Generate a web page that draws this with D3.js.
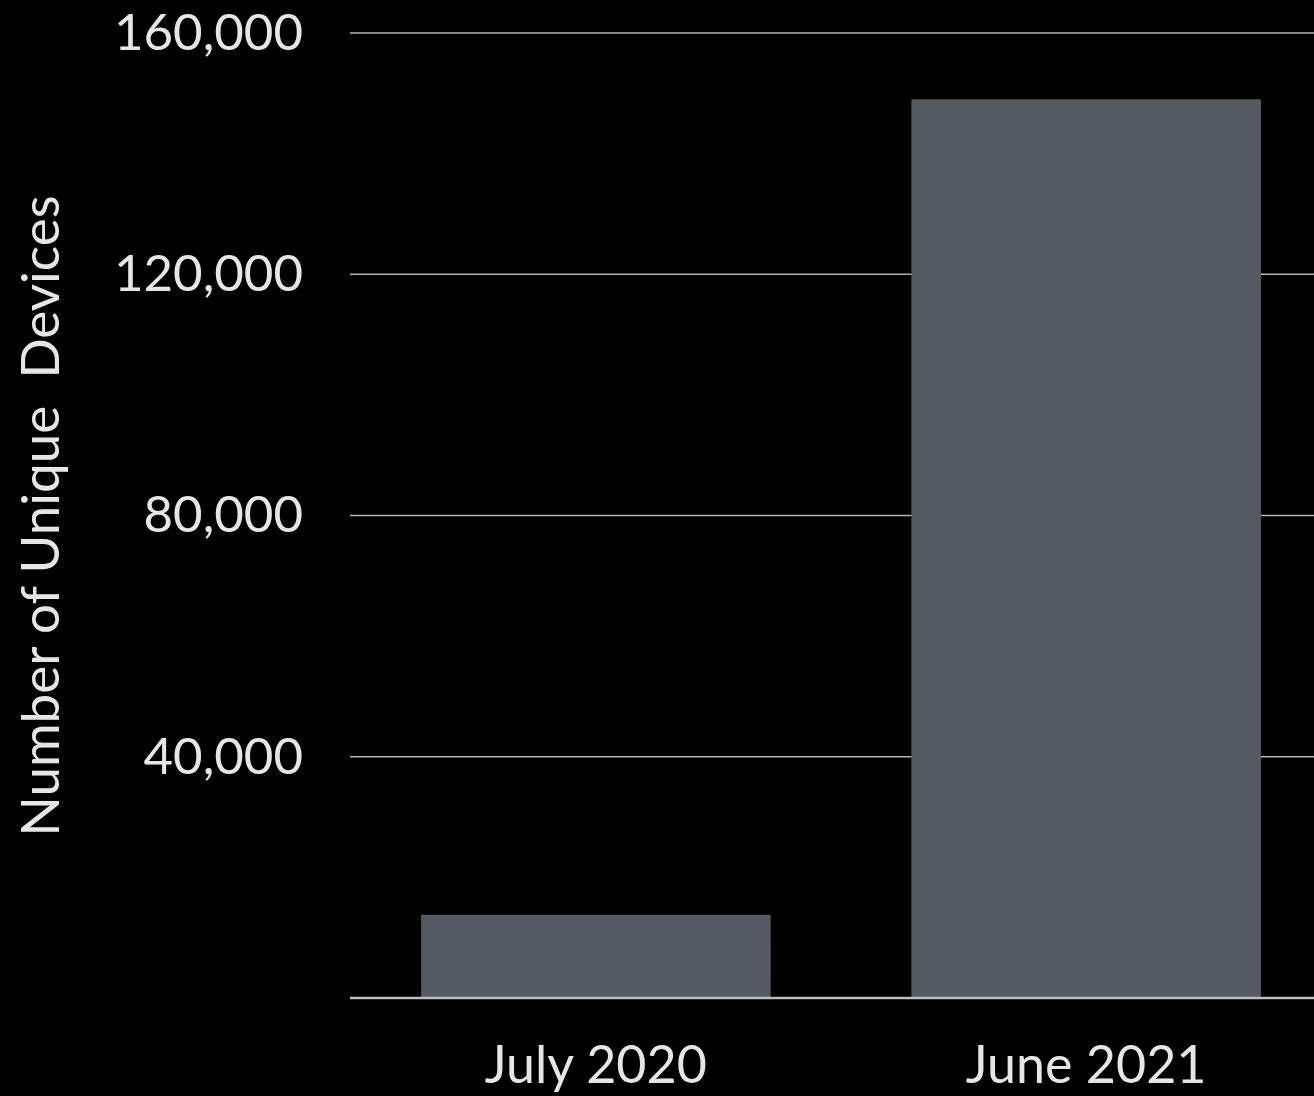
<!DOCTYPE html>
<meta charset="utf-8">
<head>
  <title>Unique Devices</title>
  <style>
    body { margin: 0; background: #000; }
    svg text { font-family: Lato, "Open Sans", sans-serif; font-weight: 400; fill: #e6e6e6; }
  </style>
</head>
<body>
<script src="https://d3js.org/d3.v7.min.js"></script>
<div id="chart"></div>
<script>

// Data
var periods = ["July 2020", "June 2021"];
var devices = [13800, 149000];
var yTicks = [40000, 80000, 120000, 160000];

var width = 1314,
    height = 1096;

var svg = d3.select("#chart").append("svg")
    .attr("width", width)
    .attr("height", height)
    .style("background", "#000");

var y = d3.scaleLinear()
    .domain([0, 160000])
    .range([998, 33]);

var x = d3.scaleBand()
    .domain(periods)
    .range([350, 1332])
    .paddingInner(0.287)
    .paddingOuter(0.145);

// gridlines
svg.append("g").selectAll("line")
    .data(yTicks)
  .enter().append("line")
    .attr("x1", 350)
    .attr("x2", width)
    .attr("y1", function(d) { return y(d); })
    .attr("y2", function(d) { return y(d); })
    .style("stroke", "#b4b4b4")
    .style("stroke-width", 1.5);

// bars
svg.append("g").selectAll("rect")
    .data(periods)
  .enter().append("rect")
    .attr("x", function(d) { return x(d); })
    .attr("width", x.bandwidth())
    .attr("y", function(d, i) { return y(devices[i]); })
    .attr("height", function(d, i) { return y(0) - y(devices[i]); })
    .style("fill", "#555962");

// baseline
svg.append("line")
    .attr("x1", 350)
    .attr("x2", width)
    .attr("y1", y(0))
    .attr("y2", y(0))
    .style("stroke", "#bdbdbd")
    .style("stroke-width", 2.5);

// y tick labels
svg.append("g").selectAll("text")
    .data(yTicks)
  .enter().append("text")
    .attr("x", 303)
    .attr("y", function(d) { return y(d); })
    .attr("dy", "0.33em")
    .attr("text-anchor", "end")
    .style("font-size", "51px")
    .text(function(d) { return d3.format(",")(d); });

// x labels
svg.append("g").selectAll("text")
    .data(periods)
  .enter().append("text")
    .attr("x", function(d) { return x(d) + x.bandwidth() / 2; })
    .attr("y", 1083)
    .attr("text-anchor", "middle")
    .style("font-size", "52px")
    .text(function(d) { return d; });

// y title
svg.append("text")
    .attr("transform", "translate(59,516)rotate(-90)")
    .attr("text-anchor", "middle")
    .style("font-size", "53px")
    .style("white-space", "pre")
    .text("Number of Unique  Devices");

</script>
</body>
